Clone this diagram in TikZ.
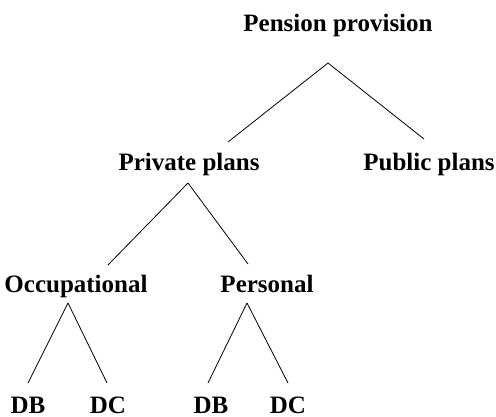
\documentclass[tikz,border=0pt]{standalone}
\usepackage{fontspec}
\setmainfont{Liberation Serif}
\usepackage{tikz}
\usetikzlibrary{positioning}
\tikzset{
    plan/.style={
    inner sep=0pt,anchor=base,font=\fontsize{25}{30}\selectfont\bfseries
    },
    branch/.style={
    draw=black,line width=0.8pt
    },
}

\begin{document}
\begin{tikzpicture}[x=1pt, y=-1pt]
   \useasboundingbox (0,0) rectangle (496,417);

   %labels
   \node[plan] (pension) at (338,32) {Pension provision};
   \node[plan] (private) at (189,171) {Private plans};
   \node[plan] (public) at (429,171) {Public plans};
   \node[plan] (occ) at (76,292) {Occupational};
   \node[plan] (pers) at (267,292) {Personal};
   \node[plan] (occdb) at (28,413) {DB};
   \node[plan] (occdc) at (108,413) {DC};
   \node[plan] (persdb) at (211,413) {DB};
   \node[plan] (persdc) at (288,413) {DC};

   %fork pension provision
   \coordinate (pension-f) at (328,63);
   \coordinate (private-t) at (228,142);
   \coordinate (public-t) at (424,139);

   %fork private plans
   \coordinate (private-f) at (188,183);
   \coordinate (occ-t) at (108,265);
   \coordinate (pers-t) at (248,264);

   %fork occupational and personal
   \coordinate (occ-f) at (68,303);
   \coordinate (occdb-t) at (28,383);
   \coordinate (occdc-t) at (107,383);
   \coordinate (pers-f) at (247,303);
   \coordinate (persdb-t) at (208,383);
   \coordinate (persdc-t) at (288,383);

  \path[branch]
    (pension-f) edge (private-t)
                edge (public-t)
    (private-f) edge (occ-t)
                edge (pers-t)
    (occ-f) edge (occdb-t)
            edge (occdc-t)
    (pers-f) edge (persdb-t)
             edge (persdc-t);
\end{tikzpicture}
\end{document}
